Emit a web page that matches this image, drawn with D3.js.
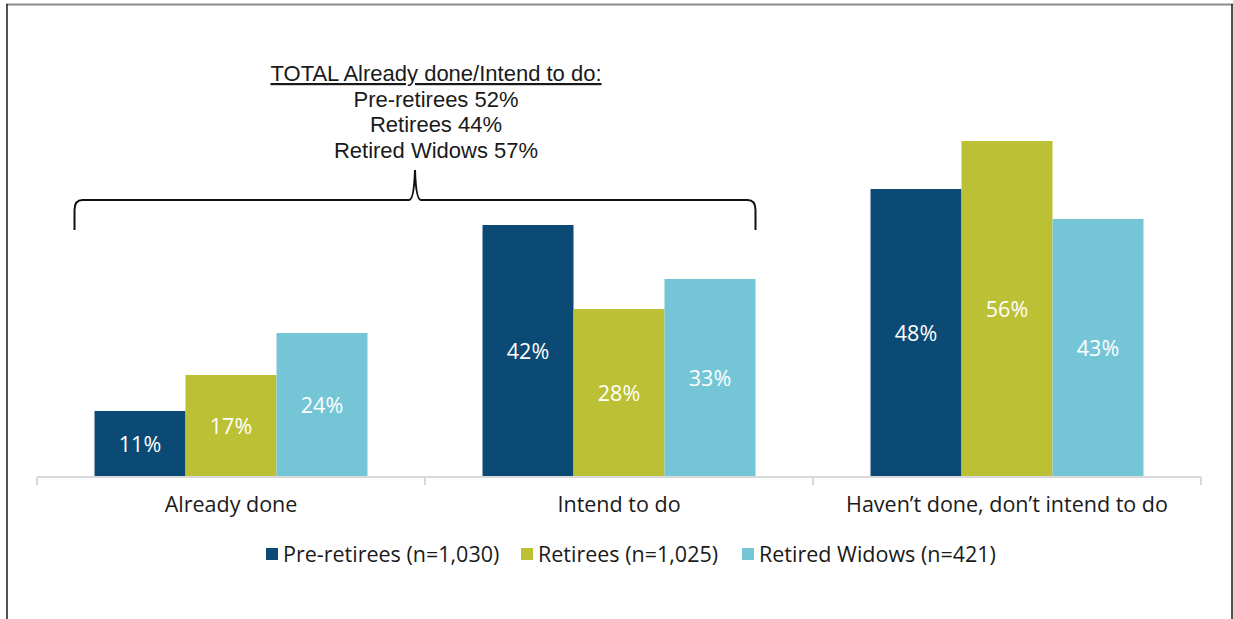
<!DOCTYPE html>
<html>
<head>
<meta charset="utf-8">
<script src="https://cdn.jsdelivr.net/npm/d3@7"></script>
<style>
  body { margin: 0; background: #fff; }
  svg { display: block; font-family: "Open Sans", sans-serif; }
</style>
</head>
<body>
<div id="chart"></div>
<script>
// chart data
var categories = ["Already done", "Intend to do", "Haven\u2019t done, don\u2019t intend to do"];
var seriesNames = ["Pre-retirees (n=1,030)", "Retirees (n=1,025)", "Retired Widows (n=421)"];
var preRetirees = [11, 42, 48];
var retirees = [17, 28, 56];
var retiredWidows = [24, 33, 43];
var totalLines = ["Pre-retirees 52%", "Retirees 44%", "Retired Widows 57%"];
var totalTitle = "TOTAL Already done/Intend to do:";

var colors = ["#0b4a74", "#bcc034", "#74c5d6"];

var width = 1233, height = 619;
var margin = { left: 37, right: 32, base: 477 };
var fontSize = "21.5px";

var series = [preRetirees, retirees, retiredWidows];

var svg = d3.select("#chart").append("svg")
  .attr("width", width)
  .attr("height", height);

// frame
svg.append("line").attr("x1", 6).attr("x2", width).attr("y1", 4.5).attr("y2", 4.5)
  .attr("stroke", "#8c8c8c").attr("stroke-width", 2);
svg.append("line").attr("x1", 7).attr("x2", 7).attr("y1", 4).attr("y2", height)
  .attr("stroke", "#1a1a1a").attr("stroke-width", 1.5);
svg.append("line").attr("x1", 1232).attr("x2", 1232).attr("y1", 4).attr("y2", height)
  .attr("stroke", "#1a1a1a").attr("stroke-width", 1.5);

// scales
var x0 = d3.scaleBand()
  .domain(categories)
  .range([margin.left, width - margin.right])
  .paddingInner(0)
  .paddingOuter(0);

var x1 = d3.scaleBand()
  .domain(d3.range(seriesNames.length))
  .range([0, x0.bandwidth()])
  .paddingOuter(0.632)
  .paddingInner(0);

var y = d3.scaleLinear()
  .domain([0, 60])
  .range([margin.base, margin.base - 360]);

// bars
var groups = svg.selectAll("g.cat")
  .data(categories)
  .enter().append("g")
  .attr("class", "cat")
  .attr("transform", function(d) { return "translate(" + x0(d) + ",0)"; });

groups.each(function(cat, ci) {
  var g = d3.select(this);
  var vals = series.map(function(s, si) { return { si: si, v: s[ci] }; });

  g.selectAll("rect").data(vals).enter().append("rect")
    .attr("x", function(d) { return x1(d.si); })
    .attr("width", x1.bandwidth())
    .attr("y", function(d) { return y(d.v); })
    .attr("height", function(d) { return y(0) - y(d.v); })
    .attr("fill", function(d) { return colors[d.si]; });

  g.selectAll("text.val").data(vals).enter().append("text")
    .attr("class", "val")
    .attr("x", function(d) { return x1(d.si) + x1.bandwidth() / 2; })
    .attr("y", function(d) { return (y(d.v) + y(0)) / 2; })
    .attr("dy", "0.35em")
    .attr("text-anchor", "middle")
    .attr("fill", "#fff")
    .style("font-size", fontSize)
    .text(function(d) { return d.v + "%"; });
});

// category axis
var axis = d3.axisBottom(x0).tickSize(0).tickPadding(20);
var ax = svg.append("g")
  .attr("transform", "translate(0," + margin.base + ")")
  .call(axis);
ax.select(".domain").attr("stroke", "#d9d9d9").attr("stroke-width", 2)
  .attr("d", "M" + margin.left + ",0H" + (width - margin.right));
ax.selectAll(".tick text")
  .style("font-size", fontSize)
  .style("font-family", "\"Open Sans\", sans-serif")
  .attr("fill", "#1a1a1a");

// separator ticks between categories
var sepX = categories.map(function(c) { return x0(c); }).concat([width - margin.right]);
ax.selectAll("line.sep").data(sepX).enter().append("line")
  .attr("class", "sep")
  .attr("x1", function(d) { return d; })
  .attr("x2", function(d) { return d; })
  .attr("y1", 0).attr("y2", 8)
  .attr("stroke", "#d9d9d9").attr("stroke-width", 2);

// legend
var legendX = [266, 521, 742];
var legend = svg.selectAll("g.leg").data(seriesNames).enter().append("g")
  .attr("class", "leg")
  .attr("transform", function(d, i) { return "translate(" + legendX[i] + ",548)"; });
legend.append("rect").attr("width", 12).attr("height", 12)
  .attr("fill", function(d, i) { return colors[i]; });
legend.append("text").attr("x", 17).attr("y", 6).attr("dy", "0.35em")
  .style("font-size", fontSize).attr("fill", "#1a1a1a")
  .text(function(d) { return d; });

// annotation (tighter line box font so the stacked lines don't collide)
var annX = 436;
var ann = svg.append("text")
  .attr("x", annX).attr("y", 81)
  .attr("text-anchor", "middle")
  .style("font-family", "\"Liberation Sans\", Arial, sans-serif")
  .style("font-size", "22px")
  .attr("fill", "#1a1a1a");
ann.append("tspan")
  .attr("x", annX)
  .style("text-decoration", "underline")
  .text(totalTitle);
ann.selectAll("tspan.tot").data(totalLines).enter().append("tspan")
  .attr("class", "tot")
  .attr("x", annX)
  .attr("dy", 25.7)
  .text(function(d) { return d; });

// curly bracket spanning first two categories
var bL = x0(categories[0]) + x1(0) - 20, bR = x0(categories[1]) + x1(2) + x1.bandwidth(), bM = 415;
var bTop = 200, bBot = 230, bPeak = 170;
var brace = d3.path();
brace.moveTo(bL, bBot);
brace.lineTo(bL, bTop + 10);
brace.quadraticCurveTo(bL, bTop, bL + 8, bTop);
brace.lineTo(bM - 6, bTop);
brace.quadraticCurveTo(bM - 1, bTop, bM, bPeak);
brace.quadraticCurveTo(bM + 1, bTop, bM + 6, bTop);
brace.lineTo(bR - 8, bTop);
brace.quadraticCurveTo(bR, bTop, bR, bTop + 10);
brace.lineTo(bR, bBot);
svg.append("path").attr("d", brace.toString())
  .attr("fill", "none").attr("stroke", "#111").attr("stroke-width", 2);
</script>
</body>
</html>
